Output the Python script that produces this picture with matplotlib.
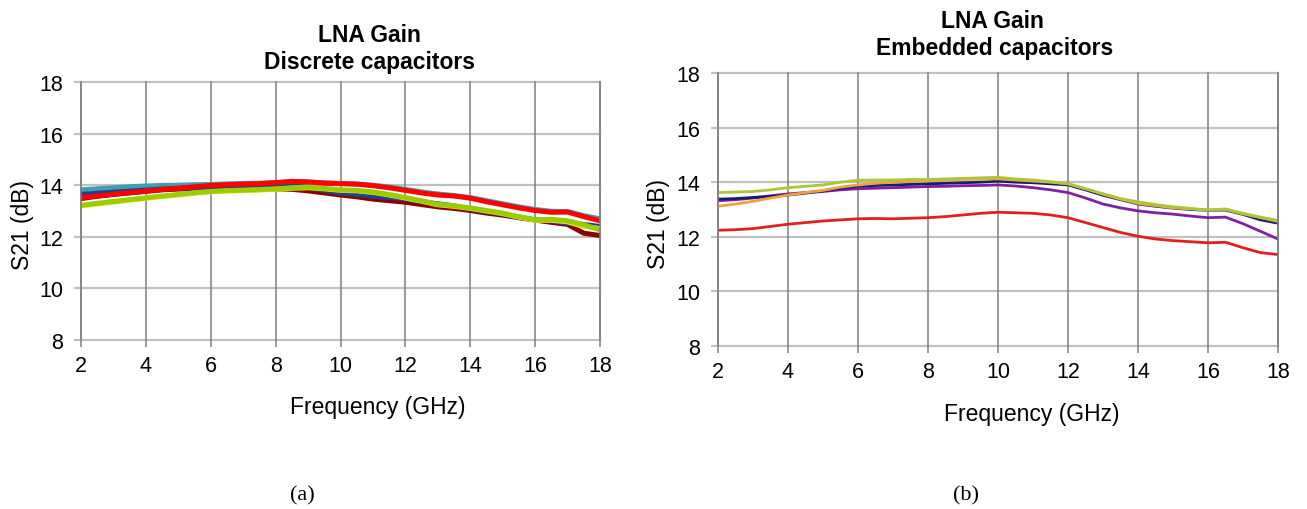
# =========================================================
# LNA GAIN - DISCRETE VS EMBEDDED CAPACITORS
# =========================================================

import matplotlib.pyplot as plt

plt.rcParams["font.family"] = ["Liberation Sans", "DejaVu Sans"]


# =========================================================
# DATA
# =========================================================

freq = [2, 2.5, 3, 3.5, 4, 4.5, 5, 5.5, 6, 6.5, 7, 7.5, 8, 8.5, 9, 9.5,
        10, 10.5, 11, 11.5, 12, 12.5, 13, 13.5, 14, 14.5, 15, 15.5, 16,
        16.5, 17, 17.5, 18]

# (a) discrete capacitors
disc_teal = [13.82, 13.86, 13.90, 13.94, 13.97, 13.99, 14.00, 14.02, 14.03,
             14.05, 14.07, 14.08, 14.10, 14.12, 14.12, 14.09, 14.07, 14.05,
             14.00, 13.93, 13.84, 13.74, 13.66, 13.60, 13.52, 13.40, 13.28,
             13.16, 13.06, 12.99, 12.98, 12.82, 12.70]
disc_maroon = [13.48, 13.57, 13.64, 13.70, 13.76, 13.82, 13.85, 13.88, 13.90,
               13.89, 13.88, 13.87, 13.86, 13.84, 13.78, 13.70, 13.62, 13.55,
               13.46, 13.40, 13.34, 13.25, 13.16, 13.10, 13.02, 12.92, 12.84,
               12.74, 12.65, 12.56, 12.48, 12.14, 12.05]
disc_navy = [13.64, 13.69, 13.73, 13.77, 13.81, 13.85, 13.88, 13.91, 13.93,
             13.94, 13.95, 13.96, 13.97, 13.97, 13.93, 13.80, 13.70, 13.64,
             13.57, 13.52, 13.47, 13.36, 13.28, 13.20, 13.08, 12.98, 12.88,
             12.76, 12.66, 12.62, 12.52, 12.48, 12.40]
disc_yellow = [13.20, 13.27, 13.34, 13.42, 13.49, 13.56, 13.62, 13.69, 13.74,
               13.77, 13.79, 13.81, 13.84, 13.88, 13.90, 13.86, 13.80, 13.78,
               13.72, 13.62, 13.50, 13.38, 13.24, 13.18, 13.10, 13.00, 12.90,
               12.76, 12.64, 12.64, 12.58, 12.40, 12.32]
disc_green = [13.22, 13.30, 13.37, 13.44, 13.51, 13.58, 13.64, 13.71, 13.76,
              13.79, 13.81, 13.83, 13.86, 13.90, 13.93, 13.88, 13.82, 13.80,
              13.74, 13.64, 13.52, 13.40, 13.26, 13.20, 13.12, 13.02, 12.92,
              12.78, 12.66, 12.68, 12.62, 12.47, 12.27]
disc_red = [13.52, 13.58, 13.65, 13.71, 13.77, 13.83, 13.88, 13.94, 13.99,
            14.02, 14.04, 14.06, 14.10, 14.15, 14.13, 14.08, 14.06, 14.04,
            13.98, 13.90, 13.80, 13.70, 13.62, 13.58, 13.50, 13.36, 13.24,
            13.12, 13.02, 12.95, 12.96, 12.78, 12.62]

# (b) embedded capacitors
emb_red = [12.24, 12.26, 12.30, 12.38, 12.46, 12.52, 12.58, 12.62, 12.66,
           12.67, 12.66, 12.68, 12.70, 12.74, 12.80, 12.86, 12.90, 12.88,
           12.86, 12.80, 12.70, 12.52, 12.34, 12.16, 12.02, 11.92, 11.86,
           11.82, 11.78, 11.80, 11.60, 11.42, 11.35]
emb_purple = [13.32, 13.36, 13.42, 13.50, 13.57, 13.62, 13.66, 13.72, 13.76,
              13.78, 13.80, 13.82, 13.84, 13.85, 13.87, 13.88, 13.90, 13.86,
              13.80, 13.72, 13.62, 13.42, 13.20, 13.06, 12.95, 12.88, 12.83,
              12.76, 12.70, 12.72, 12.48, 12.20, 11.92]
emb_navy = [13.38, 13.40, 13.44, 13.48, 13.53, 13.60, 13.68, 13.78, 13.85,
            13.88, 13.90, 13.92, 13.94, 13.96, 13.98, 14.00, 14.04, 14.00,
            13.98, 13.94, 13.90, 13.72, 13.52, 13.36, 13.20, 13.12, 13.05,
            13.00, 12.97, 12.98, 12.82, 12.62, 12.50]
emb_orange = [13.12, 13.20, 13.30, 13.42, 13.53, 13.62, 13.70, 13.82, 13.90,
              13.96, 14.00, 14.03, 14.05, 14.08, 14.10, 14.11, 14.12, 14.08,
              14.04, 14.00, 13.94, 13.76, 13.56, 13.38, 13.22, 13.14, 13.06,
              13.02, 12.98, 13.00, 12.84, 12.70, 12.56]
emb_green = [13.62, 13.64, 13.66, 13.72, 13.80, 13.85, 13.90, 14.00, 14.07,
             14.08, 14.08, 14.10, 14.10, 14.12, 14.14, 14.16, 14.18, 14.12,
             14.08, 14.02, 13.94, 13.76, 13.58, 13.40, 13.28, 13.18, 13.10,
             13.04, 12.98, 13.02, 12.86, 12.72, 12.60]

x_ticks = [2, 4, 6, 8, 10, 12, 14, 16, 18]
y_ticks = [8, 10, 12, 14, 16, 18]


# =========================================================
# AXES STYLE FUNCTION
# =========================================================

def style_axes(ax):

    ax.set_xlim(2, 18)
    ax.set_ylim(8, 18)

    ax.set_xticks(x_ticks)
    ax.set_yticks(y_ticks)

    # Excel-like grid: light horizontal, dark vertical
    for y in y_ticks:
        ax.axhline(y, color="#c0c0c0", linewidth=1.6, zorder=0,
                   clip_on=False)
    for x in x_ticks:
        ax.axvline(x, color="#808080", linewidth=1.1, zorder=0,
                   clip_on=False)

    for side in ["top", "bottom"]:
        ax.spines[side].set_visible(False)
    ax.spines["left"].set_color("#808080")
    ax.spines["left"].set_linewidth(1.1)
    ax.spines["right"].set_color("#808080")
    ax.spines["right"].set_linewidth(1.1)

    ax.tick_params(axis="y", direction="out", length=5, width=1.6,
                   color="#c0c0c0", labelsize=15.5, pad=8)
    ax.tick_params(axis="x", direction="out", length=5, width=1.1,
                   color="#808080", labelsize=15.5, pad=6)


# =========================================================
# FIGURE
# =========================================================

fig = plt.figure(figsize=(13.07, 5.10), dpi=100)

ax1 = fig.add_axes([81 / 1307, 1 - 341 / 510, 519 / 1307, 258 / 510])
ax2 = fig.add_axes([718 / 1307, 1 - 347 / 510, 560 / 1307, 273 / 510])


# (a) discrete capacitors
style_axes(ax1)

ax1.plot(freq, disc_teal, color="#3f9fae", linewidth=3.6)
ax1.plot(freq, disc_maroon, color="#8b0000", linewidth=3.6)
ax1.plot(freq, disc_navy, color="#1f3f8f", linewidth=3.6)
ax1.plot(freq, disc_yellow, color="#f0e020", linewidth=3.6)
ax1.plot(freq, disc_green, color="#9acd00", linewidth=3.6)
ax1.plot(freq, disc_red, color="#ff0000", linewidth=3.6)

ax1.set_xlabel("Frequency (GHz)", fontsize=16.5)
ax1.xaxis.set_label_coords(0.572, -0.215)
ax1.set_ylabel("S21 (dB)", fontsize=16.5)
ax1.yaxis.set_label_coords(-0.09, 0.45)

fig.text(369 / 1307, 1 - 36 / 510, "LNA Gain", fontsize=16.5,
         fontweight="bold", ha="center", va="center")
fig.text(369 / 1307, 1 - 63 / 510, "Discrete capacitors", fontsize=16.5,
         fontweight="bold", ha="center", va="center")


# (b) embedded capacitors
style_axes(ax2)

ax2.plot(freq, emb_red, color="#e02020", linewidth=2.0)
ax2.plot(freq, emb_purple, color="#8020a0", linewidth=2.0)
ax2.plot(freq, emb_navy, color="#1a1a70", linewidth=2.0)
ax2.plot(freq, emb_orange, color="#f0a040", linewidth=2.0)
ax2.plot(freq, emb_green, color="#a8c838", linewidth=2.0)

ax2.set_xlabel("Frequency (GHz)", fontsize=16.5)
ax2.xaxis.set_label_coords(0.561, -0.205)
ax2.set_ylabel("S21 (dB)", fontsize=16.5)
ax2.yaxis.set_label_coords(-0.085, 0.45)

fig.text(992 / 1307, 1 - 22 / 510, "LNA Gain", fontsize=16.5,
         fontweight="bold", ha="center", va="center")
fig.text(995 / 1307, 1 - 49 / 510, "Embedded capacitors", fontsize=16.5,
         fontweight="bold", ha="center", va="center")


# captions
fig.text(302 / 1307, 1 - 496 / 510, "(a)", fontsize=16,
         family="Liberation Serif", ha="center", va="center")
fig.text(966 / 1307, 1 - 496 / 510, "(b)", fontsize=16,
         family="Liberation Serif", ha="center", va="center")


# =========================================================
# SAVE
# =========================================================

plt.savefig("out.png", dpi=100)

plt.close()
